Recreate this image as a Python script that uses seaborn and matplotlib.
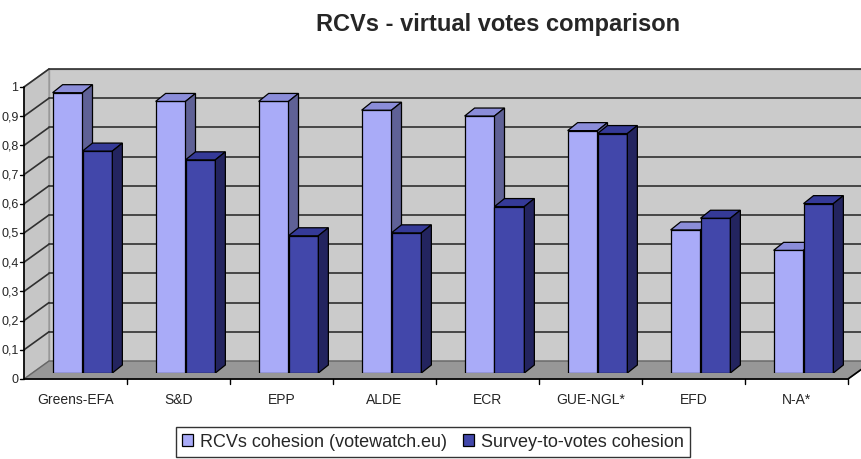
import pandas as pd
import matplotlib
matplotlib.use("Agg")
import matplotlib.pyplot as plt
from matplotlib.patches import Polygon
import seaborn as sns

# Data
parties = ["Greens-EFA", "S&D", "EPP", "ALDE", "ECR", "GUE-NGL*", "EFD", "N-A*"]
rcv_cohesion = [0.96, 0.93, 0.93, 0.90, 0.88, 0.83, 0.49, 0.42]
survey_cohesion = [0.76, 0.73, 0.47, 0.48, 0.57, 0.82, 0.53, 0.58]
series_names = ["RCVs cohesion (votewatch.eu)", "Survey-to-votes cohesion"]
y_ticks = [0, 0.1, 0.2, 0.3, 0.4, 0.5, 0.6, 0.7, 0.8, 0.9, 1.0]
y_tick_labels = ["0", "0,1", "0,2", "0,3", "0,4", "0,5", "0,6", "0,7", "0,8", "0,9", "1"]

df = pd.DataFrame({"party": parties,
                   series_names[0]: rcv_cohesion,
                   series_names[1]: survey_cohesion})
df = df.melt(id_vars="party", var_name="series", value_name="cohesion")

sns.set_style("white")
plt.rcParams["font.family"] = ["Liberation Sans", "DejaVu Sans"]

fig = plt.figure(figsize=(8.61, 4.6), dpi=100)
# axes = plane of the bars (3D look is faked with offsets)
ax = fig.add_axes([31 / 861, (460 - 374) / 460, 824 / 861, 292 / 460])

PX_X = 824 / 8   # pixels per category
PX_Y = 292       # pixels per unit


def front(x, y):
    return (x - 7 / PX_X, y - 6 / PX_Y)


def back(x, y):
    return (x + 18 / PX_X, y + 12 / PX_Y)


x_lo, x_hi = -0.5, 7.5

# ----------------------------
# Walls and floor
# ----------------------------
ax.add_patch(Polygon([back(x_lo, 0), back(x_hi + 0.3, 0), back(x_hi + 0.3, 1), back(x_lo, 1)],
                     closed=True, facecolor="#cbcbcb", edgecolor="#999999", lw=1, clip_on=False, zorder=0))
ax.add_patch(Polygon([front(x_lo, 0), front(x_lo, 1), back(x_lo, 1), back(x_lo, 0)],
                     closed=True, facecolor="#c6c6c6", edgecolor="#999999", lw=1, clip_on=False, zorder=0))
ax.add_patch(Polygon([front(x_lo, 0), front(x_hi, 0), back(x_hi, 0), back(x_lo, 0)],
                     closed=True, facecolor="#979797", edgecolor="#666666", lw=1, clip_on=False, zorder=1))

for v in y_ticks[1:]:
    bx, by = zip(back(x_lo, v), back(x_hi + 0.3, v))
    ax.plot(bx, by, color="#303030", lw=1.2, clip_on=False, zorder=0.5)
    lx, ly = zip(front(x_lo, v), back(x_lo, v))
    ax.plot(lx, ly, color="#303030", lw=1.2, clip_on=False, zorder=0.5)

# front axes lines
ax.plot(*zip(front(x_lo, 0), front(x_lo, 1)), color="black", lw=1.2, clip_on=False, zorder=5)
ax.plot(*zip(front(x_lo, 0), front(x_hi, 0), back(x_hi, 0)), color="black", lw=1.2, clip_on=False, zorder=5)

for v, lab in zip(y_ticks, y_tick_labels):
    x0, y0 = front(x_lo, v)
    ax.plot([x0 - 4 / PX_X, x0], [y0, y0], color="black", lw=1, clip_on=False, zorder=5)
    ax.text(x0 - 5.5 / PX_X, y0, lab, ha="right", va="center", fontsize=9, clip_on=False)

for i in range(1, 9):
    x0, y0 = front(i - 0.5, 0)
    ax.plot([x0, x0], [y0, y0 - 5 / PX_Y], color="black", lw=1, clip_on=False, zorder=5)

for i, p in enumerate(parties):
    x0, y0 = front(i, 0)
    ax.text(x0, y0 - 20 / PX_Y, p, ha="center", va="center", fontsize=10)

# ----------------------------
# Bars
# ----------------------------
front_colors = ["#a9abf8", "#4247aa"]
top_colors = ["#8b8dd9", "#353a98"]
side_colors = ["#5f6196", "#23245f"]

sns.barplot(data=df, x="party", y="cohesion", hue="series", order=parties,
            hue_order=series_names, palette=front_colors, saturation=1,
            width=0.58, gap=0, edgecolor="black", linewidth=0.9, ax=ax)

handles, labels = ax.get_legend_handles_labels()
ax.get_legend().remove()

ddx, ddy = 10 / PX_X, 8 / PX_Y
for k, cont in enumerate(ax.containers):
    for bar in cont:
        bar.set_zorder(3 + k)
        x0, x1, h = bar.get_x(), bar.get_x() + bar.get_width(), bar.get_height()
        top = Polygon([(x0, h), (x1, h), (x1 + ddx, h + ddy), (x0 + ddx, h + ddy)],
                      closed=True, facecolor=top_colors[k], edgecolor="black", lw=0.9, zorder=3 + k)
        side = Polygon([(x1, 0), (x1, h), (x1 + ddx, h + ddy), (x1 + ddx, ddy)],
                       closed=True, facecolor=side_colors[k], edgecolor="black", lw=0.9, zorder=3 + k)
        ax.add_patch(top)
        ax.add_patch(side)

ax.set_xlim(x_lo, x_hi)
ax.set_ylim(0, 1)
ax.set_axis_off()

# ----------------------------
# Title and legend
# ----------------------------
fig.text(498 / 861, 1 - 31 / 460, "RCVs - virtual votes comparison",
         ha="center", va="baseline", fontsize=17, fontweight="bold")

fig.legend(handles, labels, loc="center", bbox_to_anchor=(433 / 861, 1 - 443 / 460),
           ncol=2, frameon=True, fancybox=False, edgecolor="black", fontsize=13,
           handlelength=0.6, handleheight=0.6, handletextpad=0.4, columnspacing=0.9,
           borderpad=0.35)

fig.savefig("out.png", dpi=100)
